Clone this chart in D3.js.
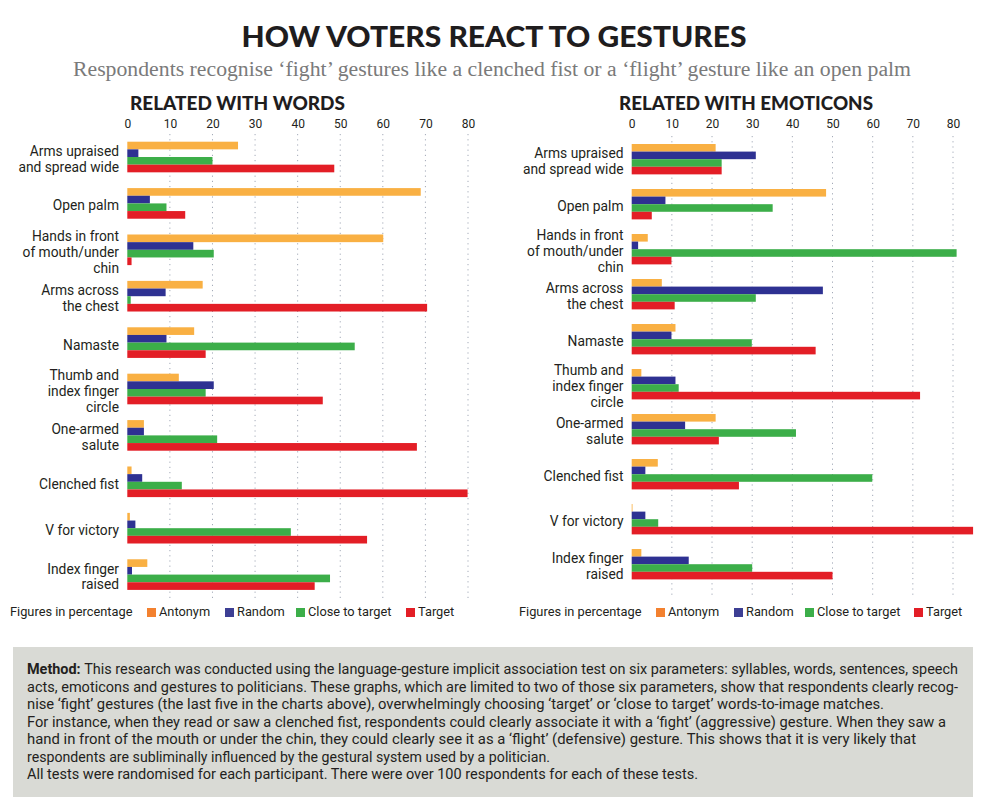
<!DOCTYPE html>
<html>
<head>
<meta charset="utf-8">
<script src="https://cdn.jsdelivr.net/npm/d3@7"></script>
<style>
  body { margin: 0; background: #fff; }
  svg { display: block; }
</style>
</head>
<body>
<svg id="chart" width="1000" height="809"></svg>
<script>
// ---------------------------------------------------------------
//    DATA
// ---------------------------------------------------------------
const categories = [
    "Arms upraised\nand spread wide",
    "Open palm",
    "Hands in front\nof mouth/under\nchin",
    "Arms across\nthe chest",
    "Namaste",
    "Thumb and\nindex finger\ncircle",
    "One-armed\nsalute",
    "Clenched fist",
    "V for victory",
    "Index finger\nraised"
];

const seriesNames = ["Antonym", "Random", "Close to target", "Target"];

// Related with words (percent), one array per series
const wordsAntonym = [26, 68.9, 60.1, 17.7, 15.7, 12.1, 3.9, 1.0, 0.6, 4.7];
const wordsRandom  = [2.6, 5.3, 15.5, 9.0, 9.2, 20.3, 3.9, 3.5, 1.9, 1.1];
const wordsClose   = [20, 9.2, 20.3, 0.8, 53.4, 18.4, 21.1, 12.8, 38.4, 47.6];
const wordsTarget  = [48.6, 13.6, 1.0, 70.4, 18.4, 45.9, 68.0, 79.9, 56.3, 44.0];

// Related with emoticons (percent)
const emoAntonym = [20.9, 48.4, 4.0, 7.5, 10.9, 2.4, 20.9, 6.5, 0.2, 2.4];
const emoRandom  = [30.9, 8.4, 1.6, 47.6, 9.9, 10.9, 13.3, 3.4, 3.4, 14.2];
const emoClose   = [22.4, 35.1, 80.9, 30.9, 29.9, 11.7, 40.9, 59.9, 6.6, 30.0];
const emoTarget  = [22.4, 5.0, 9.9, 10.7, 45.8, 71.8, 21.7, 26.7, 85.0, 50.0];

const tickValues = [0, 10, 20, 30, 40, 50, 60, 70, 80];

const barColors = ["#f9b043", "#2e3192", "#3cae49", "#e31e26"];
const swatchColors = ["#f3812f", "#3d3f94", "#3cae49", "#e31e26"];

const methodLines = [
    "This research was conducted using the language-gesture implicit association test on six parameters: syllables, words, sentences, speech",
    "acts, emoticons and gestures to politicians. These graphs, which are limited to two of those six parameters, show that respondents clearly recog-",
    "nise \u2018fight\u2019 gestures (the last five in the charts above), overwhelmingly choosing \u2018target\u2019 or \u2018close to target\u2019 words-to-image matches.",
    "For instance, when they read or saw a clenched fist, respondents could clearly associate it with a \u2018fight\u2019 (aggressive) gesture. When they saw a",
    "hand in front of the mouth or under the chin, they could clearly see it as a \u2018flight\u2019 (defensive) gesture. This shows that it is very likely that",
    "respondents are subliminally influenced by the gestural system used by a politician.",
    "All tests were randomised for each participant. There were over 100 respondents for each of these tests."
];
const methodLineWidths = [931, 931, 857, 919, 889, 523, 671];

// ---------------------------------------------------------------
//    DRAWING
// ---------------------------------------------------------------
const svg = d3.select("#chart");
const labelFont = "Roboto, 'DejaVu Sans', sans-serif";

svg.append("text")
    .attr("x", 494).attr("y", 47)
    .attr("text-anchor", "middle")
    .attr("font-family", "Lato, 'DejaVu Sans', sans-serif")
    .attr("font-weight", 900)
    .attr("font-size", 28)
    .attr("fill", "#1f1d1e")
    .attr("textLength", 505)
    .attr("lengthAdjust", "spacingAndGlyphs")
    .text("HOW VOTERS REACT TO GESTURES");

svg.append("text")
    .attr("x", 73).attr("y", 76)
    .attr("font-family", "'Liberation Serif', 'DejaVu Serif', serif")
    .attr("font-size", 20)
    .attr("fill", "#7a7a7a")
    .attr("textLength", 838)
    .attr("lengthAdjust", "spacingAndGlyphs")
    .text("Respondents recognise \u2018fight\u2019 gestures like a clenched fist or a \u2018flight\u2019 gesture like an open palm");

function drawPanel(cfg) {
    const g = svg.append("g");

    const x = d3.scaleLinear().domain([0, 80]).range(cfg.xRange);
    const y = d3.scaleBand()
        .domain(d3.range(categories.length))
        .range(cfg.yRange)
        .paddingInner(cfg.pad)
        .paddingOuter(0);
    const ySub = d3.scaleBand()
        .domain(d3.range(seriesNames.length))
        .range([0, y.bandwidth()]);

    // panel title
    g.append("text")
        .attr("x", cfg.titleX).attr("y", 110)
        .attr("text-anchor", "middle")
        .attr("font-family", "Lato, 'DejaVu Sans', sans-serif")
        .attr("font-weight", 900)
        .attr("font-size", 19)
        .attr("fill", "#1f1d1e")
        .attr("textLength", cfg.titleW)
        .attr("lengthAdjust", "spacingAndGlyphs")
        .text(cfg.title);

    // top axis labels + dotted grid
    const axis = d3.axisTop(x).tickValues(tickValues).tickSize(0).tickPadding(0);
    const ax = g.append("g").attr("transform", "translate(0,128)").call(axis);
    ax.select(".domain").remove();
    ax.selectAll("text")
        .attr("font-family", labelFont)
        .attr("font-size", 12)
        .attr("fill", "#231f20");

    g.append("g").selectAll("line")
        .data(tickValues.filter(d => d > 0))
        .join("line")
        .attr("x1", d => x(d)).attr("x2", d => x(d))
        .attr("y1", cfg.gridTop).attr("y2", cfg.gridBottom)
        .attr("stroke", "#a3aab8")
        .attr("stroke-width", 1)
        .attr("stroke-dasharray", "1.2,4");

    // bars
    const groups = g.append("g").selectAll("g")
        .data(categories.map((c, i) => ({ name: c, i: i })))
        .join("g")
        .attr("transform", d => `translate(0,${y(d.i)})`);

    groups.selectAll("rect")
        .data(d => cfg.series.map((s, k) => ({ k: k, v: s[d.i] })))
        .join("rect")
        .attr("x", x(0))
        .attr("y", d => ySub(d.k))
        .attr("width", d => Math.max(0, x(d.v) - x(0)))
        .attr("height", ySub.bandwidth())
        .attr("fill", d => barColors[d.k]);

    // category labels
    const lh = 15.8;
    groups.append("text")
        .attr("font-family", labelFont)
        .attr("font-size", 13.8)
        .attr("fill", "#231f20")
        .attr("text-anchor", "end")
        .each(function (d) {
            const lines = d.name.split("\n");
            const mid = y.bandwidth() / 2 + 2;
            const first = mid - (lines.length - 1) * lh / 2 + 5;
            d3.select(this).selectAll("tspan")
                .data(lines)
                .join("tspan")
                .attr("x", cfg.labelX)
                .attr("y", (l, j) => first + j * lh)
                .text(l => l);
        });

    // legend
    const leg = g.append("g")
        .attr("font-family", labelFont)
        .attr("font-size", 12.8)
        .attr("fill", "#231f20");
    leg.append("text")
        .attr("x", cfg.legendX).attr("y", 616)
        .text("Figures in percentage");
    seriesNames.forEach((s, k) => {
        leg.append("rect")
            .attr("x", cfg.swatchX[k]).attr("y", 608)
            .attr("width", 9).attr("height", 9)
            .attr("fill", swatchColors[k]);
        leg.append("text")
            .attr("x", cfg.swatchX[k] + 12).attr("y", 616)
            .text(s);
    });
}

drawPanel({
    title: "RELATED WITH WORDS",
    titleX: 237.5, titleW: 215,
    xRange: [127.3, 468],
    yRange: [141.7, 589.9],
    pad: 0.34,
    gridTop: 134, gridBottom: 598,
    labelX: 119,
    legendX: 10,
    swatchX: [147, 225, 296, 406],
    series: [wordsAntonym, wordsRandom, wordsClose, wordsTarget]
});

drawPanel({
    title: "RELATED WITH EMOTICONS",
    titleX: 746, titleW: 254,
    xRange: [631.7, 953],
    yRange: [144, 579.4],
    pad: 0.325,
    gridTop: 136, gridBottom: 595,
    labelX: 623.5,
    legendX: 519,
    swatchX: [656, 734, 805, 914],
    series: [emoAntonym, emoRandom, emoClose, emoTarget]
});

// method box
svg.append("rect")
    .attr("x", 13).attr("y", 647)
    .attr("width", 960).attr("height", 150)
    .attr("fill", "#d9dad5");

const method = svg.append("g")
    .attr("font-family", labelFont)
    .attr("font-size", 14)
    .attr("fill", "#231f20");

methodLines.forEach((line, i) => {
    const t = method.append("text")
        .attr("x", 27)
        .attr("y", 674 + i * 17.5)
        .attr("textLength", methodLineWidths[i])
        .attr("lengthAdjust", "spacingAndGlyphs");
    if (i === 0) {
        t.append("tspan").attr("font-weight", 700).text("Method: ");
    }
    t.append("tspan").text(line);
});
</script>
</body>
</html>
